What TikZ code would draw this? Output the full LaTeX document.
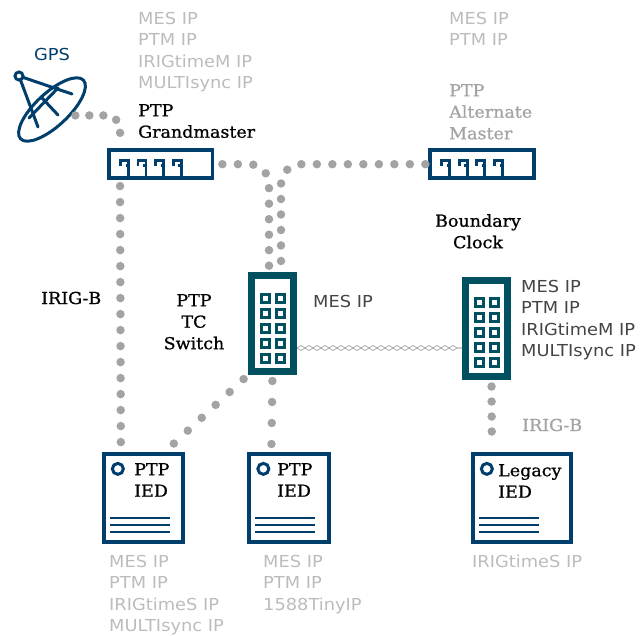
\documentclass[tikz,border=0pt]{standalone}
\usepackage{fontspec}
\setmainfont[FakeStretch=1.08]{DejaVu Sans}
\newfontfamily\slabfont[FakeStretch=1.06,FakeBold=0.8]{DejaVu Serif}
\usetikzlibrary{positioning,shapes.geometric,decorations.pathmorphing}
\definecolor{navy}{HTML}{003F6B}
\definecolor{teal}{HTML}{00505F}
\definecolor{dotgray}{HTML}{A3A3A3}
\definecolor{ipgray}{HTML}{BCBCBC}
\definecolor{ipdark}{HTML}{444444}
\begin{document}
\begin{tikzpicture}[
x=1pt, y=-1pt,
clocknode/.style={rectangle, draw=navy, line width=3.8pt, minimum width=103.5pt, minimum height=28pt, inner sep=0pt},
switchnode/.style={rectangle, draw=teal, line width=7pt, minimum width=42pt, minimum height=96pt, inner sep=0pt},
iednode/.style={rectangle, draw=navy, line width=3.8pt, minimum width=79.5pt, minimum height=88.5pt, inner sep=0pt},
iplabel/.style={anchor=north west, inner sep=0pt, align=left, text=ipgray, font=\fontsize{16.5}{21.3}\selectfont},
namelabel/.style={anchor=north west, inner sep=0pt, align=left, text=black, font=\slabfont\fontsize{16.5}{21.5}\selectfont},
dotline/.style={draw=dotgray, line width=8.5pt, line cap=round, dash pattern=on 0pt off 15.5pt},
keyline/.style={draw=navy, line width=2.8pt},
linkline/.style={draw=dotgray, line width=0.7pt, decorate, decoration={zigzag, segment length=16pt, amplitude=#1}},
dishline/.style={draw=navy, line width=3pt, line cap=round},
]
\useasboundingbox (0,0) rectangle (644,635);
%Nodes
\node[clocknode]      (gm)      at (160.7,164.2) {};
\node[clocknode]      (am)      at (482,164.2) {};
\node[switchnode]     (tc)      at (272.5,323.5) {};
\node[switchnode]     (bc)      at (486.5,328) {};
\node[iednode]        (iedA)    at (143.5,498) {};
\node[iednode]        (iedB)    at (289,498) {};
\node[iednode, minimum width=98.5pt] (legacy) at (522,498) {};
\node[ellipse, draw=navy, line width=3pt, minimum width=86pt, minimum height=33pt, inner sep=0pt, rotate=43] (gps) at (52,109.5) {};

%Texts
\node[text=navy, font=\fontsize{16.5}{17}\selectfont, inner sep=0pt] (gpstext) at (52,54) {GPS};
\node[iplabel] (gmips) at (138,12) {MES IP\\PTM IP\\IRIGtimeM IP\\MULTIsync IP};
\node[iplabel] (amips) at (449,12) {MES IP\\PTM IP};
\node[namelabel] (gmname) at (138,104) {PTP\\Grandmaster};
\node[namelabel, text=dotgray] (amname) at (449,84) {PTP\\Alternate\\Master};
\node[namelabel, anchor=north, align=center] (bcname) at (478,214) {Boundary\\Clock};
\node[namelabel, anchor=west] (irigA) at (41,298) {IRIG-B};
\node[namelabel, anchor=north, align=center] (tcname) at (194,294) {PTP\\TC\\Switch};
\node[iplabel, text=ipdark, anchor=west] (tcips) at (313,301) {MES IP};
\node[iplabel, text=ipdark] (bcips) at (521,280) {MES IP\\PTM IP\\IRIGtimeM IP\\MULTIsync IP};
\node[namelabel, anchor=west, text=dotgray] (irigB) at (522,425) {IRIG-B};
\node[namelabel] (iedAname) at (134,463) {PTP\\IED};
\node[namelabel] (iedBname) at (277,463) {PTP\\IED};
\node[namelabel] (legacyname) at (498,464) {Legacy\\IED};
\node[iplabel] (iedAips) at (109,555) {MES IP\\PTM IP\\IRIGtimeS IP\\MULTIsync IP};
\node[iplabel] (iedBips) at (263,555) {MES IP\\PTM IP\\1588TinyIP};
\node[iplabel] (legacyips) at (472,555) {IRIGtimeS IP};

%Dish
\draw[dishline] (19,76) -- (72,94);
\draw[dishline] (19,76) -- (38,127);
\draw[dishline] (29,118) -- (58,88);
\draw[dishline] (42,98) -- (58,115);
\node[circle, draw=navy, line width=3pt, fill=white, minimum size=8pt, inner sep=0pt] (feed) at (19,76) {};

%Clock keys
\foreach \clk in {gm,am}
  \foreach \k in {0,1,2,3}
    \draw[keyline] ([shift={(13.3+17.6*\k,2)}]\clk.west) -- ++(0,-5.5) -- ++(8,0) -- ++(0,15.5)
      ++(0,-11) -- ++(-2.8,0);

%Switch cells
\foreach \sw in {tc,bc}
  \foreach \col in {-7.5,7.5}
    \foreach \row in {-25.5,-10.5,4.5,19.5,34.5}
      \draw[teal, line width=3pt, fill=white] ([shift={(\col-4,\row-4)}]\sw.center) rectangle ++(8,8);

%IED marks
\foreach \ied in {iedA,iedB,legacy} {
  \draw[navy, line width=3pt] ([shift={(16,17)}]\ied.north west) circle (5.5pt);
  \foreach \h in {66,73,80}
    \draw[navy, line width=2.6pt] ([shift={(8,\h)}]\ied.north west) -- ++(60,0);
}

%Lines
\draw[dotline, dash pattern=on 0pt off 14pt, rounded corners=14pt, shorten <=4pt, shorten >=7pt] (gps.-60) -| ([xshift=13pt]gm.north west);
\draw[dotline, dash pattern=on 0pt off 16pt, shorten <=6pt, shorten >=7pt] ([xshift=13pt]gm.south west) -- ([xshift=19pt]iedA.north west);
\draw[dotline, rounded corners=20pt, shorten <=8pt, shorten >=4pt] (gm.east) -| ([xshift=21pt]tc.north west);
\draw[dotline, rounded corners=20pt, shorten <=3pt, shorten >=4pt] (am.west) -| ([xshift=33pt]tc.north west);
\draw[dotline, dash pattern=on 0pt off 19pt, shorten <=6pt, shorten >=6pt] (tc.south west) -- ([xshift=63pt]iedA.north west);
\draw[dotline, dash pattern=on 0pt off 21pt, shorten <=6pt, shorten >=6pt] (tc.south) -- ([xshift=24pt]iedB.north west);
\draw[dotline, dash pattern=on 0pt off 15pt, shorten <=7pt, shorten >=7pt] ([xshift=5pt]bc.south) -- ([xshift=21pt]legacy.north west);
\draw[linkline=2.5pt] ([yshift=-24.5pt]tc.east) -- ([yshift=-20pt]bc.west);
\draw[linkline=-2.5pt] ([yshift=-24.5pt]tc.east) -- ([yshift=-20pt]bc.west);
\end{tikzpicture}
\end{document}
